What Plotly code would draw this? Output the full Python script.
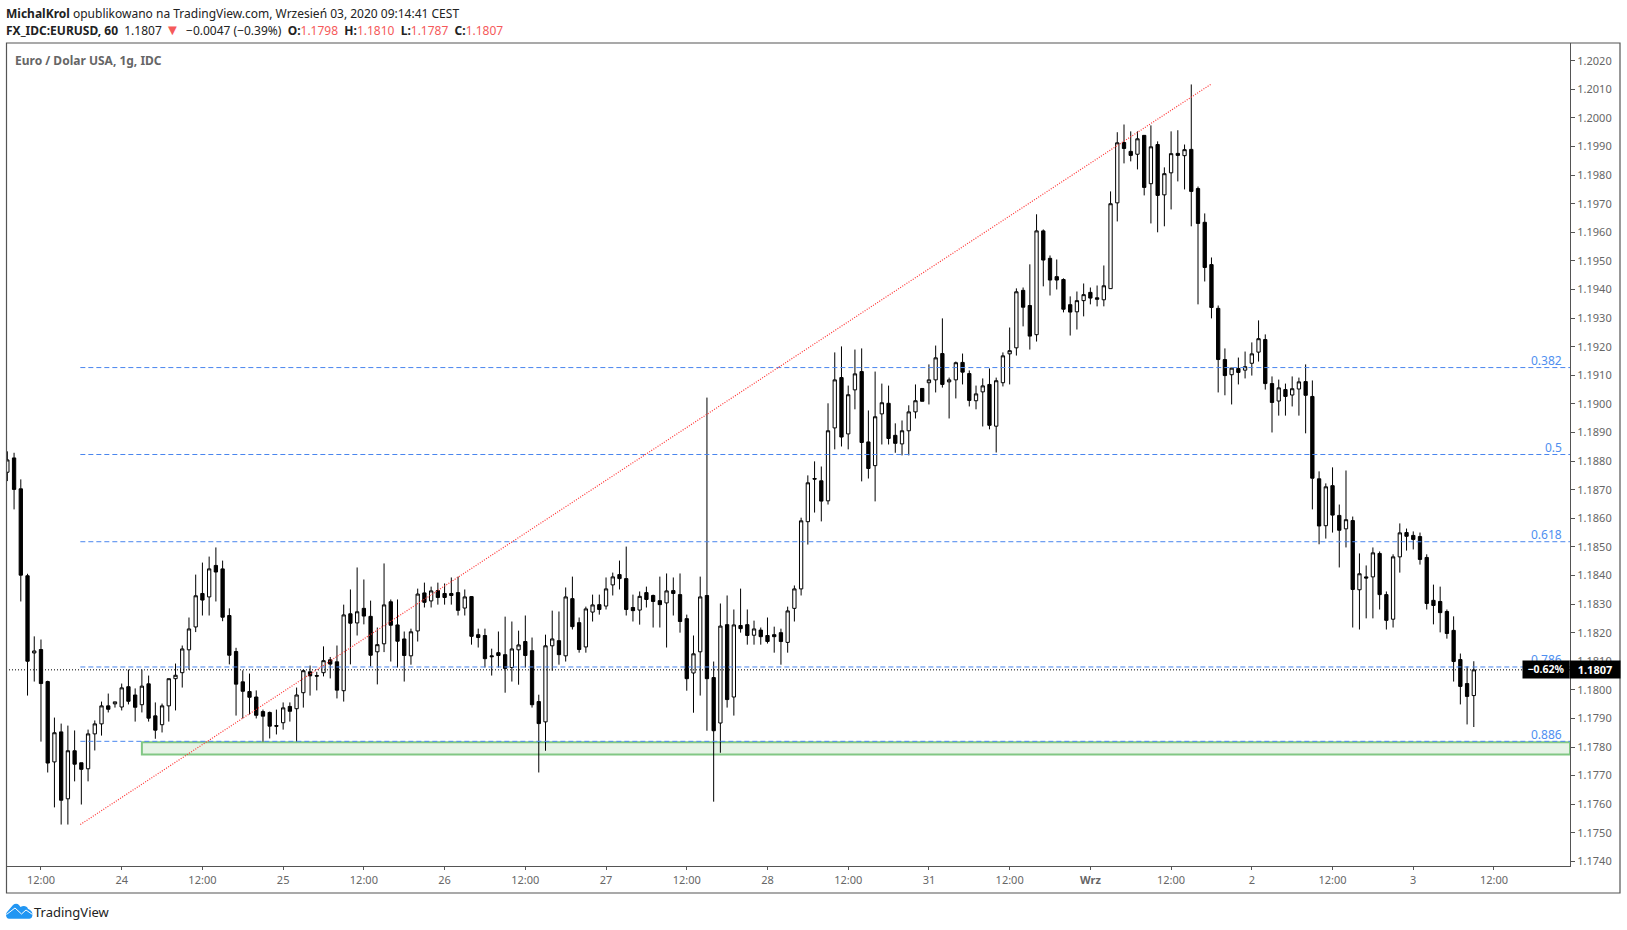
import plotly.graph_objects as go

# hourly EURUSD candles
opens = [
    1.18761, 1.18811, 1.18703, 1.18399, 1.18129, 1.18141, 1.18029, 1.17748, 1.17853, 1.17619,
    1.17787, 1.17745, 1.17724, 1.17846, 1.17881, 1.17944, 1.17951, 1.17940, 1.18011, 1.17982,
    1.17948, 1.18021, 1.17909, 1.17878, 1.17944, 1.18039, 1.18060, 1.18140, 1.18220, 1.18337,
    1.18325, 1.18435, 1.18423, 1.18260, 1.18134, 1.18028, 1.17994, 1.17975, 1.17924, 1.17921,
    1.17875, 1.17885, 1.17942, 1.17934, 1.17990, 1.18063, 1.18050, 1.18060, 1.18105, 1.18098,
    1.17997, 1.18266, 1.18234, 1.18285, 1.18257, 1.18133, 1.18161, 1.18308, 1.18227, 1.18178,
    1.18119, 1.18206, 1.18339, 1.18311, 1.18347, 1.18337, 1.18337, 1.18340, 1.18286, 1.18326,
    1.18193, 1.18190, 1.18119, 1.18130, 1.18123, 1.18078, 1.18140, 1.18169, 1.18137, 1.17959,
    1.17888, 1.18154, 1.18172, 1.18119, 1.18319, 1.18235, 1.18150, 1.18272, 1.18298, 1.18293,
    1.18367, 1.18403, 1.18389, 1.18288, 1.18279, 1.18340, 1.18330, 1.18312, 1.18304, 1.18347,
    1.18333, 1.18249, 1.18059, 1.18133, 1.18330, 1.18043, 1.17884, 1.18228, 1.17975, 1.18225,
    1.18228, 1.18191, 1.18209, 1.18190, 1.18193, 1.18200, 1.18166, 1.18285, 1.18353, 1.18588,
    1.18739, 1.18731, 1.18661, 1.18916, 1.19092, 1.18895, 1.19049, 1.19113, 1.18867, 1.18784,
    1.18965, 1.19002, 1.18890, 1.18860, 1.18906, 1.18972, 1.19054, 1.19074, 1.19084, 1.19176,
    1.19077, 1.19084, 1.19145, 1.19106, 1.19011, 1.19042, 1.19068, 1.18922, 1.19074, 1.19175,
    1.19196, 1.19397, 1.19344, 1.19242, 1.19605, 1.19509, 1.19445, 1.19435, 1.19347, 1.19322,
    1.19361, 1.19390, 1.19371, 1.19364, 1.19403, 1.19703, 1.19914, 1.19883, 1.19873, 1.19939,
    1.19770, 1.19907, 1.19731, 1.19808, 1.19876, 1.19868, 1.19890, 1.19753, 1.19635, 1.19487,
    1.19334, 1.19155, 1.19102, 1.19124, 1.19118, 1.19142, 1.19181, 1.19225, 1.19071, 1.19010,
    1.19050, 1.19031, 1.19052, 1.19078, 1.19026, 1.18738, 1.18574, 1.18714, 1.18610, 1.18563,
    1.18592, 1.18350, 1.18395, 1.18395, 1.18477, 1.18333, 1.18247, 1.18465, 1.18550, 1.18540,
    1.18536, 1.18463, 1.18313, 1.18309, 1.18274, 1.18208, 1.18106, 1.18022, 1.17980,
]
highs = [
    1.18834, 1.18829, 1.18736, 1.18406, 1.18187, 1.18176, 1.18032, 1.17903, 1.17882, 1.17875,
    1.17858, 1.17745, 1.17861, 1.17893, 1.17959, 1.17987, 1.17958, 1.18022, 1.18071, 1.18005,
    1.18071, 1.18050, 1.17956, 1.17952, 1.18039, 1.18092, 1.18155, 1.18253, 1.18403, 1.18445,
    1.18466, 1.18498, 1.18452, 1.18285, 1.18147, 1.18068, 1.18057, 1.17998, 1.17931, 1.17924,
    1.17931, 1.17956, 1.17956, 1.18008, 1.18071, 1.18085, 1.18063, 1.18152, 1.18115, 1.18155,
    1.18298, 1.18351, 1.18428, 1.18386, 1.18312, 1.18218, 1.18442, 1.18316, 1.18316, 1.18204,
    1.18214, 1.18354, 1.18375, 1.18361, 1.18375, 1.18372, 1.18393, 1.18396, 1.18351, 1.18328,
    1.18214, 1.18214, 1.18144, 1.18204, 1.18256, 1.18239, 1.18207, 1.18260, 1.18183, 1.17983,
    1.18193, 1.18277, 1.18274, 1.18358, 1.18396, 1.18253, 1.18291, 1.18333, 1.18333, 1.18393,
    1.18410, 1.18452, 1.18501, 1.18333, 1.18344, 1.18361, 1.18333, 1.18396, 1.18407, 1.18393,
    1.18407, 1.18263, 1.18190, 1.18396, 1.19022, 1.18099, 1.18302, 1.18330, 1.18281, 1.18354,
    1.18281, 1.18242, 1.18218, 1.18253, 1.18221, 1.18214, 1.18291, 1.18365, 1.18602, 1.18750,
    1.18799, 1.18781, 1.19002, 1.19180, 1.19201, 1.19064, 1.19190, 1.19194, 1.18977, 1.19113,
    1.19071, 1.19064, 1.18932, 1.18942, 1.18995, 1.19068, 1.19054, 1.19138, 1.19204, 1.19299,
    1.19092, 1.19148, 1.19176, 1.19117, 1.19064, 1.19089, 1.19124, 1.19092, 1.19180, 1.19267,
    1.19404, 1.19407, 1.19488, 1.19663, 1.19610, 1.19519, 1.19505, 1.19439, 1.19376, 1.19393,
    1.19421, 1.19407, 1.19414, 1.19484, 1.19743, 1.19950, 1.19977, 1.19953, 1.19953, 1.19939,
    1.19974, 1.19918, 1.19827, 1.19953, 1.19957, 1.19907, 1.20117, 1.19760, 1.19666, 1.19512,
    1.19344, 1.19194, 1.19126, 1.19162, 1.19183, 1.19215, 1.19292, 1.19243, 1.19096, 1.19085,
    1.19071, 1.19096, 1.19092, 1.19138, 1.19082, 1.18764, 1.18722, 1.18778, 1.18648, 1.18767,
    1.18606, 1.18477, 1.18435, 1.18498, 1.18484, 1.18344, 1.18474, 1.18582, 1.18564, 1.18554,
    1.18550, 1.18474, 1.18368, 1.18361, 1.18281, 1.18257, 1.18127, 1.18082, 1.18100,
]
lows = [
    1.18730, 1.18631, 1.18309, 1.17980, 1.18029, 1.17819, 1.17711, 1.17589, 1.17529, 1.17529,
    1.17680, 1.17599, 1.17680, 1.17788, 1.17840, 1.17921, 1.17938, 1.17928, 1.17949, 1.17889,
    1.17921, 1.17889, 1.17829, 1.17851, 1.17889, 1.17928, 1.18008, 1.18070, 1.18202, 1.18260,
    1.18260, 1.18309, 1.18240, 1.18089, 1.17910, 1.17900, 1.17914, 1.17900, 1.17819, 1.17830,
    1.17844, 1.17861, 1.17889, 1.17819, 1.17938, 1.17980, 1.17998, 1.18047, 1.18040, 1.17970,
    1.17959, 1.18089, 1.18190, 1.18229, 1.18082, 1.18019, 1.18132, 1.18099, 1.18078, 1.18029,
    1.18088, 1.18169, 1.18288, 1.18288, 1.18298, 1.18298, 1.18298, 1.18260, 1.18260, 1.18158,
    1.18148, 1.18078, 1.18050, 1.18078, 1.17990, 1.18029, 1.18018, 1.18078, 1.17938, 1.17711,
    1.17787, 1.18067, 1.18088, 1.18099, 1.18211, 1.18130, 1.18130, 1.18239, 1.18263, 1.18281,
    1.18330, 1.18351, 1.18260, 1.18239, 1.18228, 1.18288, 1.18218, 1.18218, 1.18148, 1.18260,
    1.18200, 1.17997, 1.17920, 1.17980, 1.17857, 1.17609, 1.17780, 1.17938, 1.17910, 1.18200,
    1.18158, 1.18158, 1.18158, 1.18162, 1.18130, 1.18088, 1.18130, 1.18239, 1.18330, 1.18508,
    1.18620, 1.18589, 1.18648, 1.18841, 1.18851, 1.18841, 1.18981, 1.18729, 1.18739, 1.18659,
    1.18858, 1.18858, 1.18829, 1.18820, 1.18820, 1.18949, 1.19009, 1.18998, 1.19040, 1.19057,
    1.18949, 1.19019, 1.19068, 1.18991, 1.18981, 1.18921, 1.18911, 1.18830, 1.19061, 1.19068,
    1.19169, 1.19271, 1.19190, 1.19218, 1.19411, 1.19379, 1.19400, 1.19320, 1.19239, 1.19260,
    1.19306, 1.19348, 1.19341, 1.19341, 1.19403, 1.19638, 1.19841, 1.19848, 1.19820, 1.19729,
    1.19631, 1.19600, 1.19621, 1.19680, 1.19778, 1.19750, 1.19621, 1.19348, 1.19428, 1.19299,
    1.19040, 1.19030, 1.18998, 1.19068, 1.19089, 1.19099, 1.19148, 1.19050, 1.18900, 1.18959,
    1.18959, 1.18991, 1.18959, 1.18897, 1.18631, 1.18509, 1.18529, 1.18550, 1.18428, 1.18498,
    1.18218, 1.18211, 1.18250, 1.18250, 1.18281, 1.18211, 1.18218, 1.18410, 1.18487, 1.18491,
    1.18438, 1.18281, 1.18229, 1.18201, 1.18179, 1.18029, 1.17949, 1.17879, 1.17870,
]
closes = [
    1.18804, 1.18701, 1.18401, 1.18100, 1.18136, 1.18022, 1.17744, 1.17850, 1.17614, 1.17787,
    1.17740, 1.17722, 1.17846, 1.17881, 1.17944, 1.17932, 1.17958, 1.18007, 1.17960, 1.17939,
    1.18013, 1.17901, 1.17859, 1.17944, 1.18039, 1.18051, 1.18143, 1.18213, 1.18329, 1.18314,
    1.18423, 1.18412, 1.18254, 1.18121, 1.18020, 1.17995, 1.17974, 1.17911, 1.17908, 1.17873,
    1.17873, 1.17937, 1.17925, 1.17982, 1.18067, 1.18049, 1.18048, 1.18102, 1.18090, 1.17999,
    1.18262, 1.18233, 1.18273, 1.18258, 1.18121, 1.18158, 1.18297, 1.18226, 1.18170, 1.18120,
    1.18203, 1.18335, 1.18306, 1.18346, 1.18323, 1.18323, 1.18330, 1.18278, 1.18325, 1.18187,
    1.18183, 1.18109, 1.18116, 1.18120, 1.18075, 1.18143, 1.18157, 1.18120, 1.17948, 1.17882,
    1.18154, 1.18178, 1.18123, 1.18325, 1.18221, 1.18141, 1.18283, 1.18297, 1.18281, 1.18353,
    1.18395, 1.18389, 1.18281, 1.18277, 1.18327, 1.18316, 1.18309, 1.18298, 1.18346, 1.18337,
    1.18239, 1.18039, 1.18126, 1.18325, 1.18039, 1.17857, 1.18223, 1.17966, 1.18227, 1.18214,
    1.18190, 1.18213, 1.18186, 1.18169, 1.18186, 1.18169, 1.18276, 1.18353, 1.18591, 1.18724,
    1.18737, 1.18660, 1.18906, 1.19084, 1.18884, 1.19032, 1.19105, 1.18865, 1.18774, 1.18955,
    1.19004, 1.18879, 1.18862, 1.18906, 1.18972, 1.19011, 1.19009, 1.19084, 1.19161, 1.19068,
    1.19084, 1.19144, 1.19111, 1.19012, 1.19035, 1.19063, 1.18925, 1.19081, 1.19168, 1.19186,
    1.19392, 1.19338, 1.19237, 1.19605, 1.19503, 1.19433, 1.19433, 1.19331, 1.19321, 1.19361,
    1.19382, 1.19370, 1.19366, 1.19413, 1.19700, 1.19913, 1.19893, 1.19869, 1.19927, 1.19757,
    1.19899, 1.19729, 1.19805, 1.19875, 1.19869, 1.19889, 1.19743, 1.19631, 1.19477, 1.19337,
    1.19155, 1.19099, 1.19125, 1.19110, 1.19130, 1.19175, 1.19228, 1.19071, 1.19005, 1.19056,
    1.19026, 1.19053, 1.19077, 1.19030, 1.18740, 1.18573, 1.18710, 1.18611, 1.18558, 1.18595,
    1.18351, 1.18406, 1.18391, 1.18479, 1.18333, 1.18243, 1.18465, 1.18549, 1.18537, 1.18526,
    1.18456, 1.18302, 1.18295, 1.18270, 1.18197, 1.18099, 1.18012, 1.17977, 1.18070,
]

price_ticks = [1.174, 1.175, 1.176, 1.177, 1.178, 1.179, 1.180, 1.181, 1.182, 1.183, 1.184, 1.185, 1.186, 1.187, 1.188,
               1.189, 1.190, 1.191, 1.192, 1.193, 1.194, 1.195, 1.196, 1.197, 1.198, 1.199, 1.200, 1.201, 1.202]
time_ticks = [5, 17, 29, 41, 53, 65, 77, 89, 101, 113, 125, 137, 149, 161, 173, 185, 197, 209, 221]
time_labels = ['12:00', '24', '12:00', '25', '12:00', '26', '12:00', '27', '12:00', '28',
               '12:00', '31', '12:00', '<b>Wrz</b>', '12:00', '2', '12:00', '3', '12:00']

fib_levels = [1.19127, 1.18823, 1.18518, 1.18080, 1.17820]
fib_labels = ['0.382', '0.5', '0.618', '0.786', '0.886']
trend_x = [10.85, 179]
trend_y = [1.17529, 1.20119]
zone_x0 = 20
zone_y = [1.17774, 1.17817]
last_price = 1.18070

x_range = [-0.2, 232.3]
y_range = [1.17384, 1.20262]

FONT = 'Noto Sans'
GREY = '#555555'
BLUE = '#4a86ee'
RED = '#f55a5a'


# page pixels to paper coordinates
def px(x):
    return (x - 6) / 1564


def py(y):
    return 1 - (y - 43) / 823


def path(points):
    out = ''
    for cmd, *xy in points:
        out += cmd + ' ' + ' '.join(f'{px(xy[k]):.5f} {py(xy[k + 1]):.5f}' for k in range(0, len(xy), 2)) + ' '
    return out + 'Z'


fig = go.Figure()
fig.add_trace(go.Candlestick(
    x=list(range(len(opens))),
    open=opens, high=highs, low=lows, close=closes,
    increasing=dict(line=dict(color='black', width=1), fillcolor='white'),
    decreasing=dict(line=dict(color='black', width=1), fillcolor='black'),
    whiskerwidth=0,
    showlegend=False,
))

shapes = []
# green zone goes under the candles
shapes.append(dict(type='rect', xref='x', yref='y', x0=zone_x0, x1=x_range[1], y0=zone_y[0], y1=zone_y[1],
                   fillcolor='#e6f3e6', line=dict(color='#81c784', width=2), layer='below'))
for level in fib_levels:
    shapes.append(dict(type='line', xref='x', yref='y', x0=trend_x[0], x1=x_range[1], y0=level, y1=level,
                       line=dict(color=BLUE, width=1, dash='5px,3px')))
shapes.append(dict(type='line', xref='x', yref='y', x0=trend_x[0], x1=trend_x[1], y0=trend_y[0], y1=trend_y[1],
                   line=dict(color='#ff3030', width=1.2, dash='1px,1.5px')))
shapes.append(dict(type='line', xref='x', yref='y', x0=x_range[0], x1=x_range[1], y0=last_price, y1=last_price,
                   line=dict(color='black', width=1, dash='1px,2px')))

# frame around price scale and time scale
shapes.append(dict(type='rect', xref='paper', yref='paper', x0=px(6.5), x1=px(1620), y0=py(893), y1=py(43),
                   line=dict(color=GREY, width=1.2), fillcolor='rgba(0,0,0,0)'))

# logo
shapes.append(dict(type='path', xref='paper', yref='paper', line=dict(width=0), fillcolor='#2196f3', path=path([
    ('M', 9, 918.7), ('C', 6, 918.7, 5, 914, 7.5, 911.5), ('L', 13, 905), ('C', 15, 903.3, 17.5, 903.5, 19, 905),
    ('L', 20.5, 907), ('C', 23, 905.5, 27, 905.5, 28, 909), ('C', 31.5, 910, 33.5, 913.5, 32, 917),
    ('C', 31.5, 918.2, 30.5, 918.7, 29.5, 918.7)])))
shapes.append(dict(type='path', xref='paper', yref='paper', fillcolor='rgba(0,0,0,0)', line=dict(color='white', width=1),
                   path='M %.5f %.5f L %.5f %.5f L %.5f %.5f L %.5f %.5f L %.5f %.5f' % (
                       px(6.5), py(914.5), px(15), py(908), px(21.5), py(914), px(26), py(910), px(32.5), py(914.5))))

ann = []


def label(x, y, text, size=12, color='#222222', anchor='left'):
    # annotations keep a small padding, take it back so x is where the ink starts
    ann.append(dict(xref='paper', yref='paper', x=px(x - 2), y=py(y), text=text, showarrow=False, xanchor=anchor,
                    yanchor='middle', align=anchor, font=dict(family=FONT, size=size, color=color)))


label(6, 13, '<b>MichalKrol</b> opublikowano na TradingView.com, Wrzesień 03, 2020 09:14:41 CEST', size=12)
red = '<span style="color:%s">%%s</span>' % RED
label(6, 29, '<b>FX_IDC:EURUSD, 60</b>  1.1807 <span style="color:%s;font-size:15px">▼</span> &nbsp;−0.0047 (−0.39%%)'
      ' &nbsp;<b>O:</b>' % RED + red % '1.1798'
      + ' &nbsp;<b>H:</b>' + red % '1.1810' + ' &nbsp;<b>L:</b>' + red % '1.1787' + ' &nbsp;<b>C:</b>' + red % '1.1807',
      size=12)
label(15, 60.5, '<b>Euro / Dolar USA, 1g, IDC</b>', size=12, color='#666666')

for level, text in zip(fib_levels, fib_labels):
    ann.append(dict(xref='paper', yref='y', x=px(1564), y=level, yshift=7, text=text, showarrow=False, xanchor='right',
                    yanchor='middle', font=dict(family=FONT, size=12, color='#4f8ff0')))

# last price tags
ann.append(dict(xref='paper', yref='y', x=px(1546), y=last_price, text='<b>−0.62%</b>', showarrow=False, width=46,
                height=16.7, xanchor='center', yanchor='middle', bgcolor='black', borderpad=0,
                font=dict(family=FONT, size=10.5, color='white')))
ann.append(dict(xref='paper', yref='y', x=px(1595.3), y=last_price, text='<b>1.1807</b>', showarrow=False, width=50,
                height=16.7, xanchor='center', yanchor='middle', bgcolor='black', borderpad=0,
                font=dict(family=FONT, size=11, color='white')))

label(33.5, 911.5, 'TradingView', size=13, color='#222222')

fig.update_layout(
    width=1627, height=930,
    margin=dict(l=6, r=57, t=43, b=64, pad=0),
    paper_bgcolor='white', plot_bgcolor='white',
    showlegend=False,
    hovermode=False,
    shapes=shapes, annotations=ann,
    font=dict(family=FONT),
    xaxis=dict(
        range=x_range, rangeslider=dict(visible=False), showgrid=False, zeroline=False,
        tickmode='array', tickvals=time_ticks, ticktext=time_labels,
        ticks='outside', ticklen=3, tickcolor=GREY, ticklabelstandoff=1,
        tickfont=dict(family=FONT, size=11, color='#666666'),
        showline=True, linecolor=GREY, linewidth=1.2,
    ),
    yaxis=dict(
        range=y_range, side='right', showgrid=False, zeroline=False,
        tickmode='array', tickvals=price_ticks, tickformat='.4f',
        ticks='outside', ticklen=4, tickcolor=GREY,
        tickfont=dict(family=FONT, size=11, color='#666666'),
        showline=True, linecolor=GREY, linewidth=1.2,
    ),
)

fig.write_html("out.html", config={'displayModeBar': False}, post_script="document.body.style.margin='0';")
